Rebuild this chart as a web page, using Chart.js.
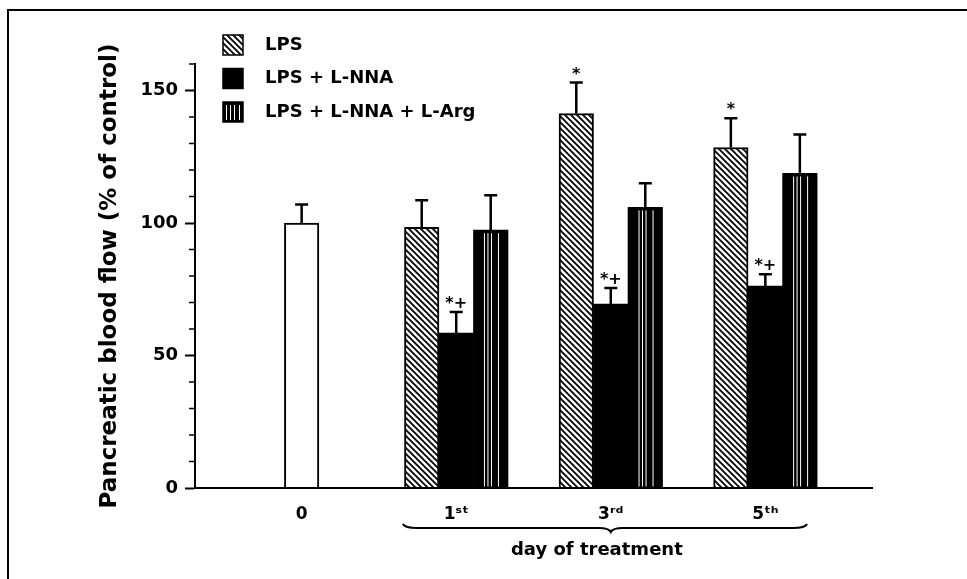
<!DOCTYPE html>
<html>
<head>
<script src="https://cdn.jsdelivr.net/npm/chart.js"></script>
<style>
    body { margin: 0; background: #fff; }
    #wrap { width: 967px; height: 579px; }
</style>
</head>
<body>
<div id="wrap"><canvas id="flowChart"></canvas></div>
<script>
    // values (% of control)
    const days = ['0', '1ˢᵗ', '3ʳᵈ', '5ᵗʰ'];
    const control = [100, null, null, null];
    const controlErr = [7, null, null, null];
    const lps = [null, 98.4, 141.3, 128.5];
    const lpsErr = [null, 10.2, 11.7, 11];
    const lpsNna = [null, 58.5, 69.4, 76.2];
    const lpsNnaErr = [null, 7.9, 6.1, 4.5];
    const lpsNnaArg = [null, 97.3, 105.9, 118.7];
    const lpsNnaArgErr = [null, 13.2, 9.1, 14.7];
    const lpsMarks = ['', '', '*', '*'];
    const lpsNnaMarks = ['', '*+', '*+', '*+'];
    const yTicks = [0, 50, 100, 150];
    const FONT = "'DejaVu Sans', sans-serif";

    const hatch = (() => {
        const c = document.createElement('canvas');
        c.width = 6; c.height = 6;
        const g = c.getContext('2d');
        g.fillStyle = '#fff';
        g.fillRect(0, 0, 6, 6);
        g.strokeStyle = '#000';
        g.lineWidth = 1.8;
        g.beginPath();
        g.moveTo(-1, -1); g.lineTo(7, 7);
        g.moveTo(-1, 5); g.lineTo(1, 7);
        g.moveTo(5, -1); g.lineTo(7, 1);
        g.stroke();
        return g.createPattern(c, 'repeat');
    })();

    const threads = [11, 14.5, 18, 25];

    const points = arr => arr.map((v, i) => ({ x: i, y: v }));

    const decor = {
        id: 'decor',
        beforeDraw(chart) {
            const { ctx, width, height } = chart;
            ctx.save();
            ctx.fillStyle = '#fff';
            ctx.fillRect(0, 0, width, height);
            ctx.strokeStyle = '#000';
            ctx.lineWidth = 2;
            ctx.beginPath();
            ctx.moveTo(8, height);
            ctx.lineTo(8, 10);
            ctx.lineTo(width, 10);
            ctx.stroke();
            ctx.restore();
        },
        afterDatasetsDraw(chart) {
            const { ctx, scales: { x, y } } = chart;
            ctx.save();

            // thin white threads in the L-Arg bars
            chart.getDatasetMeta(3).data.forEach((bar, i) => {
                if (lpsNnaArg[i] == null) return;
                const left = bar.x - bar.width / 2;
                ctx.strokeStyle = '#fff';
                ctx.lineWidth = 1;
                threads.forEach(t => {
                    ctx.beginPath();
                    ctx.moveTo(left + t, bar.y + 3);
                    ctx.lineTo(left + t, bar.base - 1);
                    ctx.stroke();
                });
            });

            // error bars, upper half only
            const sets = [[control, controlErr], [lps, lpsErr], [lpsNna, lpsNnaErr], [lpsNnaArg, lpsNnaArgErr]];
            ctx.strokeStyle = '#000';
            ctx.lineWidth = 2.5;
            sets.forEach(([vals, errs], d) => {
                chart.getDatasetMeta(d).data.forEach((bar, i) => {
                    if (vals[i] == null) return;
                    const top = y.getPixelForValue(vals[i] + errs[i]);
                    ctx.beginPath();
                    ctx.moveTo(bar.x, y.getPixelForValue(vals[i]));
                    ctx.lineTo(bar.x, top);
                    ctx.moveTo(bar.x - 6.5, top);
                    ctx.lineTo(bar.x + 6.5, top);
                    ctx.stroke();
                });
            });

            // significance marks
            ctx.fillStyle = '#000';
            ctx.font = 'bold 16px ' + FONT;
            ctx.textAlign = 'center';
            ctx.textBaseline = 'middle';
            [[lps, lpsErr, lpsMarks, 1], [lpsNna, lpsNnaErr, lpsNnaMarks, 2]].forEach(([vals, errs, marks, d]) => {
                chart.getDatasetMeta(d).data.forEach((bar, i) => {
                    if (!marks[i]) return;
                    const top = y.getPixelForValue(vals[i] + errs[i]);
                    ctx.fillText(marks[i], bar.x, top - 8);
                });
            });

            // minor ticks on the y axis
            ctx.lineWidth = 1.5;
            for (let v = 10; v <= y.max; v += 10) {
                if (yTicks.includes(v)) continue;
                const py = y.getPixelForValue(v);
                ctx.beginPath();
                ctx.moveTo(x.left - 6, py);
                ctx.lineTo(x.left, py);
                ctx.stroke();
            }

            // brace under the treatment days
            const xs = x.getPixelForValue(0.655), xm = x.getPixelForValue(2), xe = x.getPixelForValue(3.27);
            const by = 528;
            ctx.lineWidth = 2;
            ctx.beginPath();
            ctx.moveTo(xs, by - 4);
            ctx.quadraticCurveTo(xs + 2, by, xs + 14, by);
            ctx.lineTo(xm - 12, by);
            ctx.quadraticCurveTo(xm - 2, by, xm, by + 4);
            ctx.quadraticCurveTo(xm + 2, by, xm + 12, by);
            ctx.lineTo(xe - 14, by);
            ctx.quadraticCurveTo(xe - 2, by, xe, by - 4);
            ctx.stroke();

            ctx.font = 'bold 18px ' + FONT;
            ctx.fillText('day of treatment', x.getPixelForValue(1.91), 550);

            // legend
            const items = [1, 2, 3].map(d => chart.data.datasets[d]);
            ctx.textAlign = 'left';
            ctx.font = 'bold 18px ' + FONT;
            items.forEach((ds, k) => {
                const bx = 223, bt = 35 + k * 33.5;
                ctx.fillStyle = ds.backgroundColor;
                ctx.fillRect(bx, bt, 20, 20);
                if (k === 2) {
                    ctx.strokeStyle = '#fff';
                    ctx.lineWidth = 1;
                    [3.5, 7.5, 11.5, 16.5].forEach(t => {
                        ctx.beginPath();
                        ctx.moveTo(bx + t, bt + 3);
                        ctx.lineTo(bx + t, bt + 18);
                        ctx.stroke();
                    });
                }
                ctx.strokeStyle = '#000';
                ctx.lineWidth = 1.5;
                ctx.strokeRect(bx, bt, 20, 20);
                ctx.fillStyle = '#000';
                ctx.fillText(ds.label, 265, bt + 10);
            });
            ctx.restore();
        }
    };

    const flowChart = new Chart('flowChart', {
        type: 'bar',
        data: {
            datasets: [
                { label: 'control', data: points(control), backgroundColor: '#fff', borderColor: '#000', borderWidth: 2 },
                { label: 'LPS', data: points(lps), backgroundColor: hatch, borderColor: '#000', borderWidth: 2 },
                { label: 'LPS + L-NNA', data: points(lpsNna), backgroundColor: '#000' },
                { label: 'LPS + L-NNA + L-Arg', data: points(lpsNnaArg), backgroundColor: '#000' },
            ]
        },
        options: {
            responsive: true,
            maintainAspectRatio: false,
            animation: false,
            skipNull: true,
            barThickness: 34.5,
            layout: { padding: { top: 64, right: 95, left: 0, bottom: 0 } },
            plugins: { legend: { display: false }, tooltip: { enabled: false } },
            scales: {
                x: {
                    type: 'linear',
                    offset: false,
                    min: -0.69,
                    max: 3.69,
                    afterBuildTicks: s => { s.ticks = days.map((_, i) => ({ value: i })); },
                    afterFit: s => { s.height = 91; },
                    grid: { display: false, drawTicks: false },
                    border: { display: true, color: '#000', width: 2, z: 1 },
                    ticks: {
                        autoSkip: false,
                        maxRotation: 0,
                        padding: 16,
                        color: '#000',
                        font: { family: FONT, size: 17, weight: 'bold' },
                        callback: (v, i) => days[i],
                    },
                },
                y: {
                    min: 0,
                    max: 160,
                    afterBuildTicks: s => { s.ticks = yTicks.map(v => ({ value: v })); },
                    afterFit: s => { s.width = 195; },
                    grid: { drawOnChartArea: false, drawTicks: true, tickLength: 10, tickWidth: 2, tickColor: '#000' },
                    border: { display: true, color: '#000', width: 2 },
                    ticks: {
                        autoSkip: false,
                        padding: 7,
                        color: '#000',
                        font: { family: FONT, size: 18, weight: 'bold' },
                    },
                    title: {
                        display: true,
                        text: 'Pancreatic blood flow (% of control)',
                        color: '#000',
                        font: { family: FONT, size: 23, weight: 'bold' },
                        padding: { top: 96, bottom: 0 },
                    },
                },
            },
        },
        plugins: [decor],
    });
</script>
</body>
</html>
